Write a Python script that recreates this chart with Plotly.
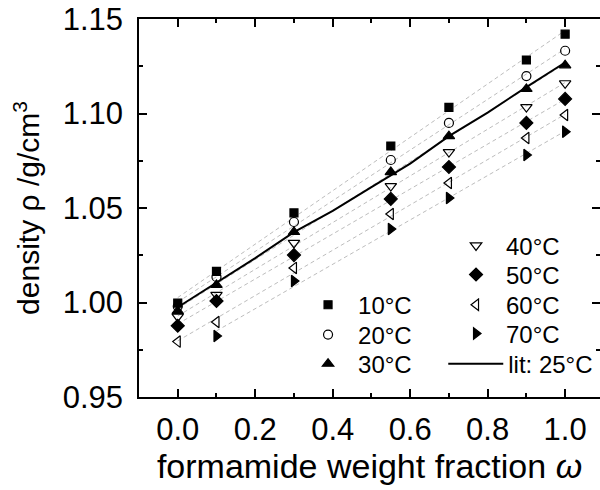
import numpy as np
import plotly.graph_objects as go

# ---- data ----
temps = ["10°C", "20°C", "30°C", "40°C", "50°C", "60°C", "70°C"]
w_all = [0.0, 0.1, 0.3, 0.55, 0.7, 0.9, 1.0]
w_70 = [0.1, 0.3, 0.55, 0.7, 0.9, 1.0]

rho_10 = [0.9997, 1.0165, 1.0474, 1.0828, 1.1032, 1.1283, 1.1420]
rho_20 = [0.9980, 1.0135, 1.0426, 1.0754, 1.0950, 1.1198, 1.1332]
rho_30 = [0.9955, 1.0093, 1.0373, 1.0690, 1.0880, 1.1130, 1.1255]
rho_40 = [0.9925, 1.0040, 1.0315, 1.0616, 1.0796, 1.1034, 1.1160]
rho_50 = [0.9877, 1.0008, 1.0251, 1.0548, 1.0717, 1.0950, 1.1077]
rho_60 = [0.9793, 0.9897, 1.0183, 1.0468, 1.0632, 1.0870, 1.0992]
rho_70 = [0.9823, 1.0114, 1.0389, 1.0553, 1.0780, 1.0904]

lit_w = [0.0, 0.1, 0.2, 0.3, 0.4, 0.5, 0.6, 0.7, 0.8, 0.9, 1.0]
lit_rho = [0.9975, 1.0105, 1.0235, 1.0372, 1.0485, 1.0610, 1.0735, 1.0880, 1.1005, 1.1140, 1.1270]

series = [
    ("10°C", w_all, rho_10, "square", 8),
    ("20°C", w_all, rho_20, "circle-open", 9),
    ("30°C", w_all, rho_30, "triangle-up", 10),
    ("40°C", w_all, rho_40, "triangle-down-open", 10),
    ("50°C", w_all, rho_50, "diamond", 10),
    ("60°C", w_all, rho_60, "triangle-left-open", 10),
    ("70°C", w_70, rho_70, "triangle-right", 10),
]

# legend slots (paper coords): one legend per entry
leg_pos = {
    "10°C": (0.345, 0.243), "20°C": (0.345, 0.164), "30°C": (0.345, 0.087),
    "40°C": (0.666, 0.400), "50°C": (0.666, 0.323), "60°C": (0.666, 0.243),
    "70°C": (0.666, 0.167), "lit: 25°C": (0.66, 0.087),
}
leg_ids = {n: ("legend" if i == 0 else f"legend{i+1}") for i, n in enumerate(leg_pos)}

fig = go.Figure()

# dashed linear fits behind the points
for name, xs, ys, sym, sz in series:
    k, b = np.polyfit(xs, ys, 1)
    xf = [min(xs), max(xs)]
    fig.add_trace(go.Scatter(x=xf, y=[k * v + b for v in xf], mode="lines",
                             line=dict(color="#bdbdbd", width=1, dash="4px,3px"),
                             showlegend=False, hoverinfo="skip"))

fig.add_trace(go.Scatter(x=lit_w, y=lit_rho, mode="lines", name="lit: 25°C",
                         line=dict(color="black", width=2),
                         legend=leg_ids["lit: 25°C"]))

for name, xs, ys, sym, sz in series:
    fig.add_trace(go.Scatter(x=xs, y=ys, mode="markers", name=name,
                             marker=dict(symbol=sym, size=sz, color="black",
                                         line=dict(color="black", width=1.2)),
                             legend=leg_ids[name]))

# invisible trace for the right tick axis
fig.add_trace(go.Scatter(x=[0], y=[1.0], yaxis="y2", mode="markers",
                         marker=dict(opacity=0), showlegend=False, hoverinfo="skip"))

FAM = "Liberation Sans, Arial, sans-serif"
font_tick = dict(family=FAM, size=31, color="black")
leg_font = dict(family=FAM, size=24, color="black")

layout_legends = {}
for n, (lx, ly) in leg_pos.items():
    layout_legends[leg_ids[n]] = dict(x=lx, y=ly, xanchor="left", yanchor="middle",
                                      bgcolor="rgba(0,0,0,0)", font=leg_font,
                                      itemwidth=55 if n.startswith("lit") else 50,
                                      tracegroupgap=0)

fig.update_layout(
    width=600, height=490,
    margin=dict(l=139, r=0, t=19, b=93),
    plot_bgcolor="white", paper_bgcolor="white",
    xaxis=dict(range=[-0.1, 1.09], dtick=0.2, tick0=0, tickformat=".1f",
               ticks="inside", ticklen=8, tickwidth=1.5, tickcolor="black",
               showline=True, linewidth=1.5, linecolor="black", mirror="ticks",
               showgrid=False, zeroline=False, tickfont=font_tick,
               ticklabelstandoff=4,
               minor=dict(dtick=0.1, tick0=0, ticks="inside", ticklen=4,
                          tickwidth=1.5, tickcolor="black", showgrid=False),
               title=dict(text="formamide weight fraction <i>ω</i>",
                          font=dict(family=FAM, size=34, color="black"), standoff=0)),
    yaxis=dict(range=[0.95, 1.15], dtick=0.05, tick0=0.95, tickformat=".2f",
               ticks="inside", ticklen=8, tickwidth=1.5, tickcolor="black",
               showline=True, linewidth=1.5, linecolor="black", mirror=False,
               showgrid=False, zeroline=False, tickfont=font_tick,
               ticklabelstandoff=8,
               minor=dict(dtick=0.025, tick0=0.95, ticks="inside", ticklen=4,
                          tickwidth=1.5, tickcolor="black", showgrid=False),
               title=dict(text="density ρ /g/cm<sup>3</sup>",
                          font=dict(family=FAM, size=30, color="black"), standoff=14)),
    yaxis2=dict(overlaying="y", side="right", matches="y", range=[0.95, 1.15],
                dtick=0.05, tick0=0.95, ticks="inside", ticklen=8, tickwidth=1.5,
                tickcolor="black", showline=False, showticklabels=False,
                showgrid=False, zeroline=False,
                minor=dict(dtick=0.025, tick0=0.95, ticks="inside", ticklen=4,
                           tickwidth=1.5, tickcolor="black", showgrid=False)),
    showlegend=True,
    **layout_legends,
)

fig.write_html("out.html")
